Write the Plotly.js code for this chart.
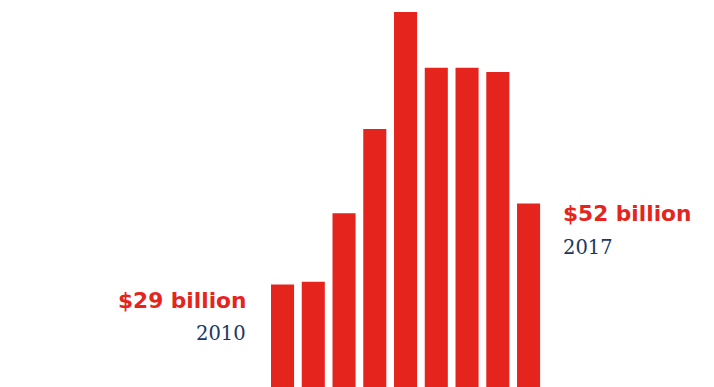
<!DOCTYPE html>
<html>
<head>
<meta charset="utf-8">
<script src="https://cdn.plot.ly/plotly-3.0.1.min.js"></script>
<style>html,body{margin:0;padding:0;background:#fff;}#chart{width:714px;height:387px;}</style>
</head>
<body>
<div id="chart"></div>
<script>
const years = ['2010','2011','2012','2013','2014','2015','2016','2017a','2017'];
const values = [29, 29.8, 49.2, 73.1, 106.2, 90.4, 90.4, 89.2, 52];
const startLabel = '$29 billion';
const startYear = '2010';
const endLabel = '$52 billion';
const endYear = '2017';

const RED = '#e5251d';
const NAVY = '#1b3764';
const xs = values.map((v, i) => i);

const trace = {
  type: 'bar',
  x: xs,
  y: values,
  width: 0.75,
  marker: {color: RED, line: {width: 0}},
  hoverinfo: 'skip'
};

const layout = {
  width: 714, height: 387,
  margin: {l: 0, r: 0, t: 0, b: 0},
  paper_bgcolor: '#fff', plot_bgcolor: '#fff',
  showlegend: false,
  xaxis: {range: [-9.187, 14.03], visible: false, fixedrange: true},
  yaxis: {range: [0, 109.6], visible: false, fixedrange: true},
  annotations: [
    {xref: 'paper', yref: 'paper', x: 248/714, y: 1 - 300/387, xanchor: 'right', yanchor: 'middle',
     text: '<b>' + startLabel + '</b>', showarrow: false,
     font: {family: 'DejaVu Sans', size: 21.7, color: RED}},
    {xref: 'paper', yref: 'paper', x: 248/714, y: 1 - 333/387, xanchor: 'right', yanchor: 'middle',
     text: startYear, showarrow: false,
     font: {family: 'DejaVu Serif', size: 19.5, color: NAVY}},
    {xref: 'paper', yref: 'paper', x: 561/714, y: 1 - 214/387, xanchor: 'left', yanchor: 'middle',
     text: '<b>' + endLabel + '</b>', showarrow: false,
     font: {family: 'DejaVu Sans', size: 21.7, color: RED}},
    {xref: 'paper', yref: 'paper', x: 561/714, y: 1 - 247/387, xanchor: 'left', yanchor: 'middle',
     text: endYear, showarrow: false,
     font: {family: 'DejaVu Serif', size: 19.5, color: NAVY}}
  ]
};

Plotly.newPlot('chart', [trace], layout, {displayModeBar: false, staticPlot: true});
</script>
</body>
</html>
